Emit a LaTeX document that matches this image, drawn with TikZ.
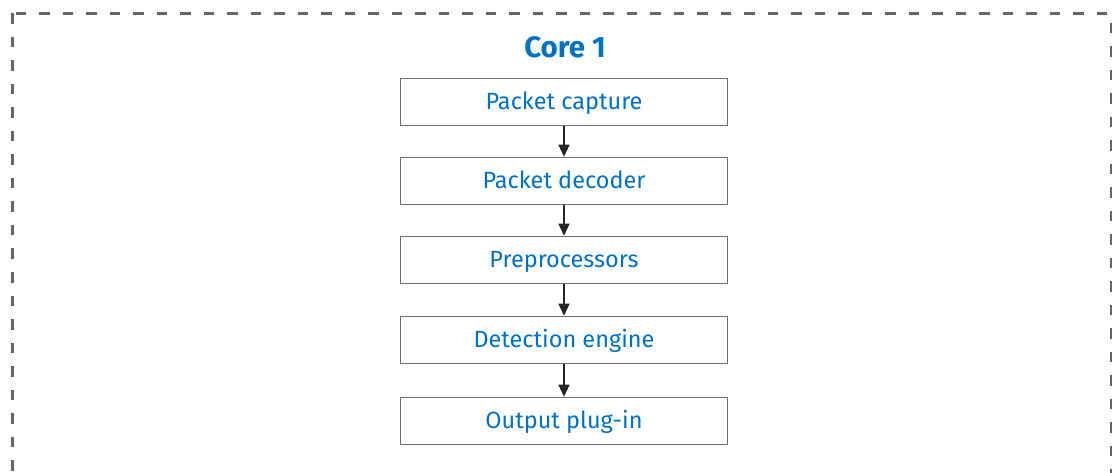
\documentclass[tikz,border=0pt]{standalone}
\usepackage{fontspec}
\setmainfont{Fira Sans}
\usetikzlibrary{arrows.meta}
\definecolor{iblue}{HTML}{0071C5}
\definecolor{dgray}{HTML}{666666}
\definecolor{bgray}{HTML}{6E6E6E}
\tikzset{
  stagebox/.style={draw=bgray, line width=1.5bp, minimum width=327bp, minimum height=47bp, inner sep=0pt,
    text=iblue, font=\fontsize{23.5bp}{26bp}\selectfont, text height=19bp, text depth=4bp},
  flow/.style={draw=black!85, line width=1.3bp, -{Triangle[length=12bp,width=11bp]}},
}
\begin{document}
\begin{tikzpicture}[x=1bp,y=-1bp]
\useasboundingbox (0,0) rectangle (1116,473);
\begin{scope}
\clip (0,0) rectangle (1116,473);
\draw[dgray, line width=2.8bp, dash pattern=on 10.5bp off 13bp] (12.5,13.5) rectangle (1111,520);
\end{scope}
\node[text=iblue, font=\fontsize{29.5bp}{32bp}\selectfont\bfseries] (title) at (565,47) {Core 1};
\node[stagebox] (b1) at (564,102) {Packet capture};
\node[stagebox] (b2) at (564,181) {Packet decoder};
\node[stagebox] (b3) at (564,260) {Preprocessors};
\node[stagebox] (b4) at (564,340) {Detection engine};
\node[stagebox] (b5) at (564,421) {Output plug-in};
\draw[flow] (b1) -- (b2);
\draw[flow] (b2) -- (b3);
\draw[flow] (b3) -- (b4);
\draw[flow] (b4) -- (b5);
\end{tikzpicture}
\end{document}
